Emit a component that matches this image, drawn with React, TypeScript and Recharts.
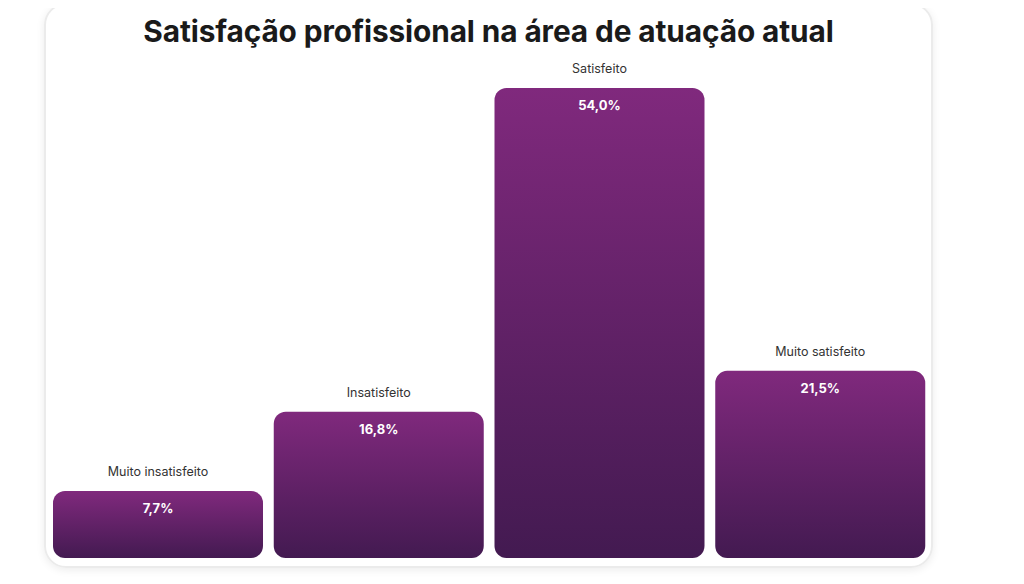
import React from "react";
import { BarChart, Bar, XAxis, YAxis, LabelList } from "recharts";

const categories = ["Muito insatisfeito", "Insatisfeito", "Satisfeito", "Muito satisfeito"];
const percentages = [7.7, 16.8, 54.0, 21.5];
const title = "Satisfação profissional na área de atuação atual";

const data = categories.map((name, i) => ({ name, value: percentages[i] }));

const fmt = (v: number) => v.toFixed(1).replace(".", ",") + "%";

export default function App() {
  return (
    <div style={{ position: "relative", width: 1024, height: 584, margin: "-8px 0 0 -8px", background: "#fff", fontFamily: "Inter, 'Open Sans', sans-serif" }}>
      <div
        style={{
          position: "absolute",
          left: 44,
          top: 3,
          width: 889,
          height: 565,
          boxSizing: "border-box",
          border: "2px solid #ebebeb",
          borderRadius: 22,
          boxShadow: "0 2px 8px rgba(0,0,0,0.08)",
        }}
      />
      <div
        style={{
          position: "absolute",
          left: 44,
          width: 889,
          top: 11,
          textAlign: "center",
          fontSize: 29.8,
          fontWeight: 700,
          color: "#1a1a1a",
          letterSpacing: -0.1,
          lineHeight: "40px",
        }}
      >
        {title}
      </div>
      <div style={{ position: "absolute", left: 0, top: 0 }}>
        <BarChart
          width={1024}
          height={584}
          data={data}
          margin={{ top: 88, right: 93, bottom: 26, left: 48 }}
          barSize={210}
        >
          <defs>
            <linearGradient id="barGrad" x1="0" y1="0" x2="0" y2="1">
              <stop offset="0%" stopColor="#80297d" />
              <stop offset="100%" stopColor="#431a51" />
            </linearGradient>
          </defs>
          <XAxis dataKey="name" hide />
          <YAxis hide domain={[0, 54]} />
          <Bar dataKey="value" fill="url(#barGrad)" radius={12} isAnimationActive={false}>
            <LabelList
              dataKey="name"
              position="top"
              offset={15}
              fill="#333"
              fontSize={12.5}
            />
            <LabelList
              dataKey="value"
              position="insideTop"
              offset={13}
              fill="#ffffff"
              fontSize={13}
              fontWeight={700}
              formatter={(v: any) => fmt(Number(v))}
            />
          </Bar>
        </BarChart>
      </div>
    </div>
  );
}
